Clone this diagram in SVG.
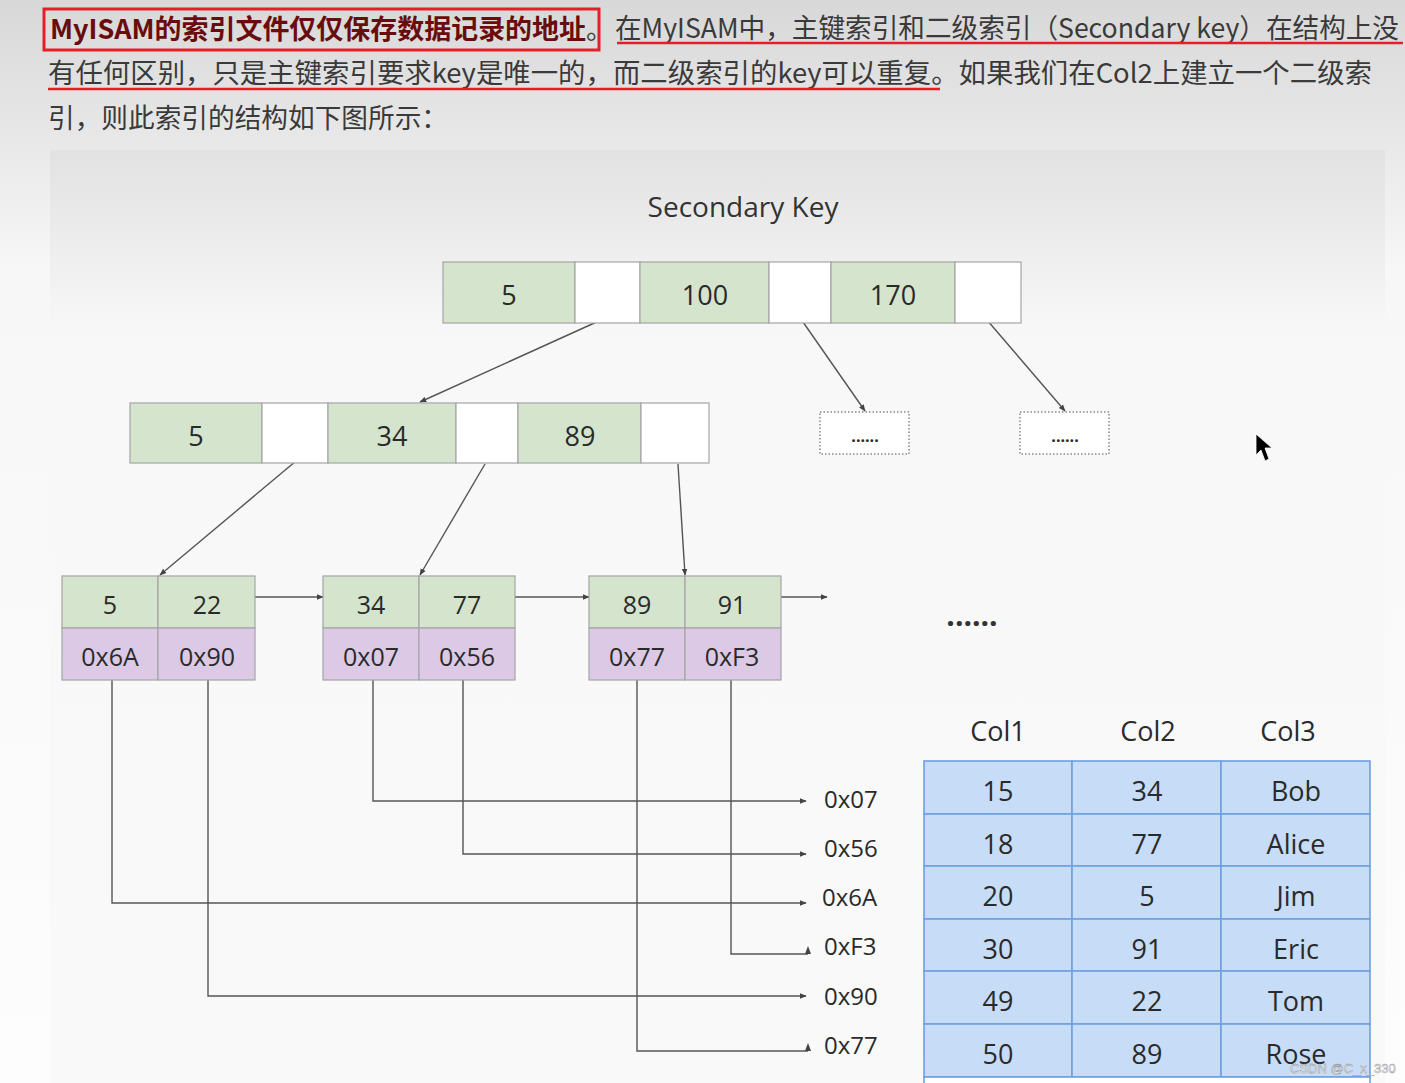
<svg xmlns="http://www.w3.org/2000/svg" width="1405" height="1083" viewBox="0 0 1405 1083">
<defs>
<linearGradient id="bg" x1="0" y1="0" x2="0" y2="1083" gradientUnits="userSpaceOnUse">
<stop offset="0" stop-color="#d8d8d8"/>
<stop offset="0.25" stop-color="#f7f7f7"/>
<stop offset="1" stop-color="#fdfdfd"/>
</linearGradient>
<linearGradient id="panel" x1="0" y1="150" x2="0" y2="1083" gradientUnits="userSpaceOnUse">
<stop offset="0" stop-color="#e2e2e2"/>
<stop offset="0.2" stop-color="#f8f8f8"/>
<stop offset="1" stop-color="#f9f9f9"/>
</linearGradient>
<marker id="ah" viewBox="0 0 10 10" refX="9" refY="5" markerWidth="7" markerHeight="7" orient="auto" markerUnits="userSpaceOnUse">
<path d="M0,1 L10,5 L0,9 z" fill="#444"/>
</marker>
</defs>
<style>
.cn{font-family:"Noto Sans CJK SC","Noto Sans",sans-serif;font-size:27px;fill:#3a3a3a;dominant-baseline:central}
.lbl{font-family:"Open Sans","Noto Sans",sans-serif;fill:#2a2a2a;text-anchor:middle;dominant-baseline:central}
.k{font-size:25px}
.t{font-size:27px}
.g{fill:#d4e4cd;stroke:#a5a5a5;stroke-width:1.2}
.w{fill:#ffffff;stroke:#a5a5a5;stroke-width:1.2}
.p{fill:#dbc9e6;stroke:#a5a5a5;stroke-width:1.2}
.cell{fill:#c7dcf7;stroke:#6fa0e2;stroke-width:1.6}
.ln{fill:none;stroke:#555;stroke-width:1.4}
.lna{fill:none;stroke:#555;stroke-width:1.4;marker-end:url(#ah)}
.dot{fill:#ffffff;stroke:#888;stroke-width:1.5;stroke-dasharray:1.5 2}
.addr{font-family:"Open Sans","Noto Sans",sans-serif;font-size:24px;fill:#2a2a2a;dominant-baseline:central}
</style>
<rect x="0" y="0" width="1405" height="1083" fill="url(#bg)"/>
<rect x="50" y="150" width="1335" height="933" fill="url(#panel)"/>

<g id="intro">
<rect x="44" y="9" width="555" height="41" fill="none" stroke="#e3202a" stroke-width="3"/>
<text class="cn" x="50" y="27" textLength="536" lengthAdjust="spacingAndGlyphs" style="fill:#6a0c0c;font-weight:bold">MyISAM的索引文件仅仅保存数据记录的地址</text>
<text class="cn" x="586" y="27">。</text>
<text class="cn" x="615" y="26" textLength="784" lengthAdjust="spacingAndGlyphs">在MyISAM中，主键索引和二级索引（Secondary key）在结构上没</text>
<line x1="617" y1="43" x2="1403" y2="43" stroke="#e3202a" stroke-width="2.5"/>
<text class="cn" x="48" y="71" textLength="1324" lengthAdjust="spacingAndGlyphs">有任何区别，只是主键索引要求key是唯一的，而二级索引的key可以重复。如果我们在Col2上建立一个二级索</text>
<line x1="48" y1="89" x2="940" y2="89" stroke="#e3202a" stroke-width="2.5"/>
<text class="cn" x="48" y="116" textLength="400" lengthAdjust="spacingAndGlyphs">引，则此索引的结构如下图所示：</text>
</g>

<g id="title">
<text class="lbl" x="743" y="206" style="font-size:28px;fill:#333">Secondary Key</text>
</g>

<g id="connectors">
<line class="lna" x1="601" y1="320" x2="420" y2="402"/>
<line class="lna" x1="803" y1="322" x2="865" y2="411"/>
<line class="lna" x1="987" y1="320" x2="1065" y2="411"/>
<line class="lna" x1="296" y1="461" x2="160" y2="575"/>
<line class="lna" x1="485" y1="464" x2="420" y2="575"/>
<line class="lna" x1="678" y1="464" x2="685" y2="575"/>
<line class="lna" x1="255" y1="597" x2="323" y2="597"/>
<line class="lna" x1="515" y1="597" x2="589" y2="597"/>
<line class="lna" x1="781" y1="597" x2="827" y2="597"/>
<polyline class="lna" points="373,680 373,801 806,801"/>
<polyline class="lna" points="463,680 463,854 806,854"/>
<polyline class="lna" points="112,680 112,903 806,903"/>
<polyline class="ln" points="731,680 731,954 808,954"/>
<path d="M805,954 L808,946 L811,954 z" fill="#444"/>
<polyline class="lna" points="208,680 208,996 806,996"/>
<polyline class="ln" points="637,680 637,1051 808,1051"/>
<path d="M805,1051 L808,1043 L811,1051 z" fill="#444"/>
</g>

<g id="root-node">
<rect class="g" x="443" y="262" width="132" height="61"/>
<rect class="w" x="575" y="262" width="65" height="61"/>
<rect class="g" x="640" y="262" width="129" height="61"/>
<rect class="w" x="769" y="262" width="62" height="61"/>
<rect class="g" x="831" y="262" width="124" height="61"/>
<rect class="w" x="955" y="262" width="66" height="61"/>
<text class="lbl t" x="509" y="294">5</text>
<text class="lbl t" x="705" y="294">100</text>
<text class="lbl t" x="893" y="294">170</text>
</g>

<g id="mid-node">
<rect class="g" x="130" y="403" width="132" height="60"/>
<rect class="w" x="262" y="403" width="66" height="60"/>
<rect class="g" x="328" y="403" width="128" height="60"/>
<rect class="w" x="456" y="403" width="62" height="60"/>
<rect class="g" x="518" y="403" width="123" height="60"/>
<rect class="w" x="641" y="403" width="68" height="60"/>
<text class="lbl t" x="196" y="435">5</text>
<text class="lbl t" x="392" y="435">34</text>
<text class="lbl t" x="580" y="435">89</text>
</g>

<g id="more-1">
<rect class="dot" x="820" y="412" width="89" height="42"/>
<text class="lbl" x="865" y="436" style="font-size:16px;font-weight:bold">......</text>
</g>
<g id="more-2">
<rect class="dot" x="1020" y="412" width="89" height="42"/>
<text class="lbl" x="1065" y="436" style="font-size:16px;font-weight:bold">......</text>
</g>

<g id="leaf-1">
<rect class="g" x="62" y="576" width="96" height="52"/>
<rect class="g" x="158" y="576" width="97" height="52"/>
<rect class="p" x="62" y="628" width="96" height="52"/>
<rect class="p" x="158" y="628" width="97" height="52"/>
<text class="lbl k" x="110" y="604">5</text>
<text class="lbl k" x="207" y="604">22</text>
<text class="lbl k" x="110" y="656">0x6A</text>
<text class="lbl k" x="207" y="656">0x90</text>
</g>
<g id="leaf-2">
<rect class="g" x="323" y="576" width="96" height="52"/>
<rect class="g" x="419" y="576" width="96" height="52"/>
<rect class="p" x="323" y="628" width="96" height="52"/>
<rect class="p" x="419" y="628" width="96" height="52"/>
<text class="lbl k" x="371" y="604">34</text>
<text class="lbl k" x="467" y="604">77</text>
<text class="lbl k" x="371" y="656">0x07</text>
<text class="lbl k" x="467" y="656">0x56</text>
</g>
<g id="leaf-3">
<rect class="g" x="589" y="576" width="96" height="52"/>
<rect class="g" x="685" y="576" width="96" height="52"/>
<rect class="p" x="589" y="628" width="96" height="52"/>
<rect class="p" x="685" y="628" width="96" height="52"/>
<text class="lbl k" x="637" y="604">89</text>
<text class="lbl k" x="732" y="604">91</text>
<text class="lbl k" x="637" y="656">0x77</text>
<text class="lbl k" x="732" y="656">0xF3</text>
</g>

<g id="ellipsis">
<text class="lbl" x="972" y="614" style="font-size:30px;font-weight:bold;fill:#333">......</text>
</g>

<g id="addresses">
<text class="addr" x="824" y="798">0x07</text>
<text class="addr" x="824" y="847">0x56</text>
<text class="addr" x="822" y="896">0x6A</text>
<text class="addr" x="824" y="945">0xF3</text>
<text class="addr" x="824" y="995">0x90</text>
<text class="addr" x="824" y="1044">0x77</text>
</g>

<g id="table">
<text class="lbl t" x="998" y="730">Col1</text>
<text class="lbl t" x="1148" y="730">Col2</text>
<text class="lbl t" x="1288" y="730">Col3</text>
<rect class="cell" x="924" y="761" width="148" height="53"/><rect class="cell" x="1072" y="761" width="149" height="53"/><rect class="cell" x="1221" y="761" width="149" height="53"/>
<rect class="cell" x="924" y="814" width="148" height="52"/><rect class="cell" x="1072" y="814" width="149" height="52"/><rect class="cell" x="1221" y="814" width="149" height="52"/>
<rect class="cell" x="924" y="866" width="148" height="53"/><rect class="cell" x="1072" y="866" width="149" height="53"/><rect class="cell" x="1221" y="866" width="149" height="53"/>
<rect class="cell" x="924" y="919" width="148" height="52"/><rect class="cell" x="1072" y="919" width="149" height="52"/><rect class="cell" x="1221" y="919" width="149" height="52"/>
<rect class="cell" x="924" y="971" width="148" height="53"/><rect class="cell" x="1072" y="971" width="149" height="53"/><rect class="cell" x="1221" y="971" width="149" height="53"/>
<rect class="cell" x="924" y="1024" width="148" height="53"/><rect class="cell" x="1072" y="1024" width="149" height="53"/><rect class="cell" x="1221" y="1024" width="149" height="53"/>
<rect x="924" y="1077" width="446" height="8" fill="#ffffff" stroke="#6fa0e2" stroke-width="1.6"/>
<text class="lbl t" x="998" y="790">15</text><text class="lbl t" x="1147" y="790">34</text><text class="lbl t" x="1296" y="790">Bob</text>
<text class="lbl t" x="998" y="843">18</text><text class="lbl t" x="1147" y="843">77</text><text class="lbl t" x="1296" y="843">Alice</text>
<text class="lbl t" x="998" y="895">20</text><text class="lbl t" x="1147" y="895">5</text><text class="lbl t" x="1296" y="895">Jim</text>
<text class="lbl t" x="998" y="948">30</text><text class="lbl t" x="1147" y="948">91</text><text class="lbl t" x="1296" y="948">Eric</text>
<text class="lbl t" x="998" y="1000">49</text><text class="lbl t" x="1147" y="1000">22</text><text class="lbl t" x="1296" y="1000">Tom</text>
<text class="lbl t" x="998" y="1053">50</text><text class="lbl t" x="1147" y="1053">89</text><text class="lbl t" x="1296" y="1053">Rose</text>
</g>

<g id="cursor">
<path d="M1256,434 L1256,455 L1261,450 L1265,461 L1269,459 L1265,448 L1272,448 z" fill="#000" stroke="#fff" stroke-width="0.8"/>
</g>

<g id="watermark">
<text x="1290" y="1068" style="font-family:'Liberation Sans',sans-serif;font-size:13px;fill:#f2f2f2;stroke:#888;stroke-width:0.4;dominant-baseline:central">CSDN @C_x_330</text>
</g>
</svg>
